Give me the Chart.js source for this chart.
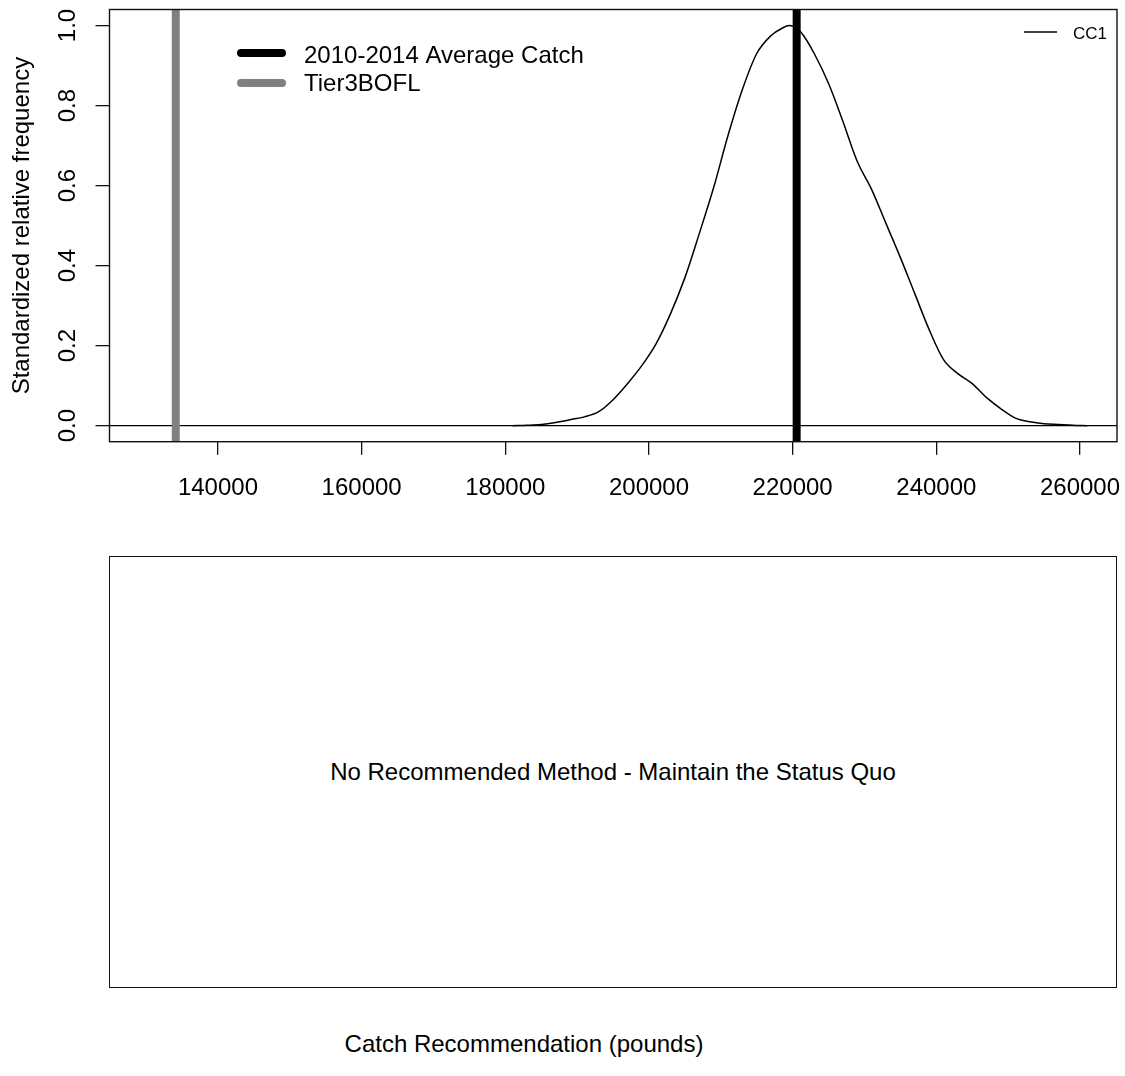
<!DOCTYPE html>
<html>
<head>
<meta charset="utf-8">
<script src="https://cdn.jsdelivr.net/npm/chart.js@4.4.1/dist/chart.umd.min.js"></script>
<style>
  html, body { margin: 0; padding: 0; background: #fff; }
  body {
    width: 1125px;
    height: 1076px;
    position: relative;
    overflow: hidden;
    font-family: "Liberation Sans", Arial, sans-serif;
    color: #000;
  }
  #topWrap { position: absolute; left: 0; top: 0; width: 1125px; height: 540px; }
  #emptyBox {
    position: absolute;
    left: 109px;
    top: 556px;
    width: 1008px;
    height: 432px;
    box-sizing: border-box;
    border: 1.5px solid #111;
  }
  #emptyBox p {
    position: absolute;
    left: 0;
    right: 0;
    top: 50%;
    margin: 0;
    transform: translateY(-50%);
    text-align: center;
    font-size: 24px;
  }
  #xLabel {
    position: absolute;
    left: 0;
    width: 1048px;
    top: 1030px;
    text-align: center;
    font-size: 24px;
  }
</style>
</head>
<body>
<div id="topWrap"><canvas id="densityChart" width="1125" height="540"></canvas></div>
<div id="emptyBox"><p>No Recommended Method - Maintain the Status Quo</p></div>
<div id="xLabel">Catch Recommendation (pounds)</div>

<script>
// density curve of CC1
const densityX = [181000, 183000, 185000, 187000, 189000, 191000, 193000, 195000, 197000, 199000,
  201000, 203000, 205000, 207000, 209000, 211000, 213000, 215000, 217000, 218500,
  219500, 220500, 221500, 223000, 225000, 227000, 229000, 231000, 233000, 235000,
  237000, 239000, 241000, 243000, 245000, 247000, 249000, 251000, 253000, 255000,
  257000, 259000, 261000];
const densityY = [0, 0.001, 0.003, 0.008, 0.015, 0.022, 0.035, 0.065, 0.105, 0.15,
  0.205, 0.28, 0.37, 0.48, 0.595, 0.725, 0.84, 0.93, 0.975, 0.993,
  1.0, 0.995, 0.975, 0.93, 0.855, 0.76, 0.66, 0.59, 0.505, 0.42,
  0.33, 0.24, 0.165, 0.13, 0.105, 0.07, 0.042, 0.019, 0.01, 0.005,
  0.003, 0.001, 0];

// reference catches
const avgCatch = 220557;
const tier3Bofl = 134125;

const xTicks = [140000, 160000, 180000, 200000, 220000, 240000, 260000];
const yTicks = [0, 0.2, 0.4, 0.6, 0.8, 1.0];
const xRange = [124900, 265150];
const yRange = [-0.04, 1.04];

const FONT = '"Liberation Sans", Arial, sans-serif';

const curvePoints = densityX.map((x, i) => ({ x: x, y: densityY[i] }));

// box, tick labels, axis title and the two legends, R style
const rStylePlugin = {
  id: "rStyle",
  afterDraw(chart) {
    const ctx = chart.ctx;
    const area = chart.chartArea;
    const xs = chart.scales.x;
    const ys = chart.scales.y;

    ctx.save();
    ctx.strokeStyle = "#111";
    ctx.lineWidth = 1.4;
    ctx.strokeRect(area.left, area.top, area.right - area.left, area.bottom - area.top);

    ctx.fillStyle = "#000";
    ctx.font = "24px " + FONT;
    ctx.textAlign = "center";
    ctx.textBaseline = "alphabetic";
    xTicks.forEach((v) => {
      ctx.fillText(String(v), xs.getPixelForValue(v), 495);
    });

    yTicks.forEach((v) => {
      ctx.save();
      ctx.translate(75, ys.getPixelForValue(v));
      ctx.rotate(-Math.PI / 2);
      ctx.fillText(v.toFixed(1), 0, 0);
      ctx.restore();
    });

    ctx.save();
    ctx.translate(29, (area.top + area.bottom) / 2);
    ctx.rotate(-Math.PI / 2);
    ctx.fillText("Standardized relative frequency", 0, 0);
    ctx.restore();

    // legend for the reference lines
    ctx.lineCap = "round";
    ctx.lineWidth = 8;
    ctx.strokeStyle = "#000";
    ctx.beginPath();
    ctx.moveTo(241, 53);
    ctx.lineTo(282, 53);
    ctx.stroke();
    ctx.strokeStyle = "#808080";
    ctx.beginPath();
    ctx.moveTo(241, 83);
    ctx.lineTo(282, 83);
    ctx.stroke();
    ctx.textAlign = "left";
    ctx.fillText("2010-2014 Average Catch", 304, 63);
    ctx.fillText("Tier3BOFL", 304, 91);

    // legend for the curve
    ctx.lineCap = "butt";
    ctx.lineWidth = 1.3;
    ctx.strokeStyle = "#000";
    ctx.beginPath();
    ctx.moveTo(1024, 32);
    ctx.lineTo(1057, 32);
    ctx.stroke();
    ctx.font = "17px " + FONT;
    ctx.fillText("CC1", 1073, 39);
    ctx.restore();
  },
};

const ctx = document.getElementById("densityChart").getContext("2d");

const densityChart = new Chart(ctx, {
  type: "line",
  data: {
    datasets: [
      {
        label: "2010-2014 Average Catch",
        data: [{ x: avgCatch, y: yRange[0] }, { x: avgCatch, y: yRange[1] }],
        borderColor: "#000",
        borderWidth: 8,
        pointRadius: 0,
        order: 0,
      },
      {
        label: "Tier3BOFL",
        data: [{ x: tier3Bofl, y: yRange[0] }, { x: tier3Bofl, y: yRange[1] }],
        borderColor: "#808080",
        borderWidth: 8,
        pointRadius: 0,
        order: 1,
      },
      {
        label: "zero",
        data: [{ x: xRange[0], y: 0 }, { x: xRange[1], y: 0 }],
        borderColor: "#000",
        borderWidth: 1.3,
        pointRadius: 0,
        order: 2,
      },
      {
        label: "CC1",
        data: curvePoints,
        borderColor: "#000",
        borderWidth: 1.5,
        pointRadius: 0,
        cubicInterpolationMode: "monotone",
        order: 3,
      },
    ],
  },
  options: {
    responsive: false,
    animation: false,
    layout: { padding: { top: 9.5, right: 8, left: 0, bottom: 0 } },
    plugins: {
      legend: { display: false },
      tooltip: { enabled: false },
    },
    scales: {
      x: {
        type: "linear",
        min: xRange[0],
        max: xRange[1],
        afterBuildTicks: (scale) => {
          scale.ticks = xTicks.map((v) => ({ value: v }));
        },
        afterFit: (scale) => {
          scale.height = 540 - 441.7;
        },
        ticks: { display: false },
        grid: { drawOnChartArea: false, drawTicks: true, tickLength: 13, color: "#111", lineWidth: 1.3 },
        border: { display: false },
      },
      y: {
        type: "linear",
        min: yRange[0],
        max: yRange[1],
        afterBuildTicks: (scale) => {
          scale.ticks = yTicks.map((v) => ({ value: v }));
        },
        afterFit: (scale) => {
          scale.width = 109.5;
        },
        ticks: { display: false },
        grid: { drawOnChartArea: false, drawTicks: true, tickLength: 14, color: "#111", lineWidth: 1.3 },
        border: { display: false },
      },
    },
  },
  plugins: [rStylePlugin],
});
</script>
</body>
</html>
